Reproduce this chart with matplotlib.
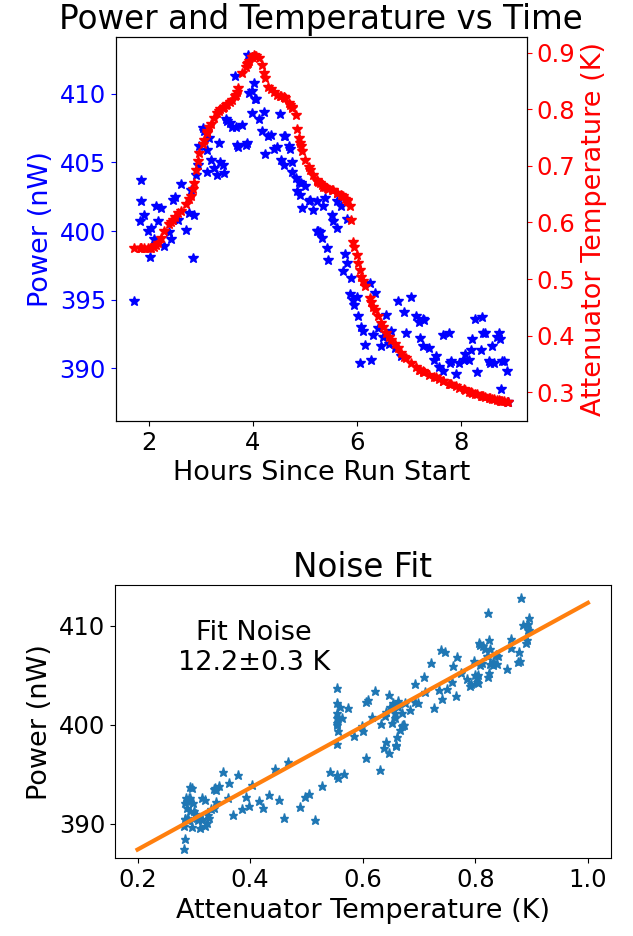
import matplotlib
matplotlib.use('Agg')
import matplotlib.pyplot as plt

# Heures depuis le début du run
hours = [1.73, 1.83, 1.85, 1.86, 1.92, 1.99, 2.02, 2.05, 2.11, 2.15, 2.18, 2.24, 2.30, 2.40, 2.43,
         2.46, 2.50, 2.56, 2.62, 2.72, 2.78, 2.81, 2.85, 2.88, 2.91, 2.94, 2.97, 3.04, 3.07, 3.12,
         3.13, 3.16, 3.19, 3.26, 3.32, 3.35, 3.38, 3.42, 3.44, 3.48, 3.51, 3.56, 3.61, 3.65, 3.67,
         3.70, 3.72, 3.80, 3.86, 3.89, 3.90, 3.92, 3.98, 3.99, 4.02, 4.05, 4.07, 4.11, 4.18, 4.21,
         4.24, 4.30, 4.34, 4.40, 4.46, 4.53, 4.54, 4.59, 4.60, 4.62, 4.69, 4.72, 4.75, 4.76, 4.82,
         4.85, 4.88, 4.91, 4.92, 4.94, 5.00, 5.07, 5.10, 5.16, 5.23, 5.24, 5.26, 5.29, 5.32, 5.35,
         5.38, 5.42, 5.45, 5.51, 5.54, 5.61, 5.62, 5.70, 5.73, 5.77, 5.80, 5.81, 5.86, 5.88, 5.92,
         5.95, 5.99, 6.02, 6.05, 6.08, 6.11, 6.15, 6.24, 6.27, 6.31, 6.34, 6.40, 6.46, 6.50, 6.56,
         6.61, 6.66, 6.72, 6.78, 6.85, 6.91, 6.94, 7.04, 7.13, 7.19, 7.20, 7.26, 7.27, 7.29, 7.38,
         7.48, 7.51, 7.58, 7.64, 7.65, 7.77, 7.78, 7.80, 7.89, 7.96, 8.05, 8.08, 8.15, 8.18, 8.21,
         8.27, 8.30, 8.37, 8.40, 8.41, 8.46, 8.53, 8.56, 8.59, 8.62, 8.69, 8.72, 8.75, 8.76, 8.78,
         8.81, 8.88, 8.90]

# Puissance mesurée (nW)
power = [394.9, 400.7, 402.2, 403.7, 401.2, 400.0, 398.1, 400.2, 399.4, 401.8, 400.7, 401.7, 398.9, 399.9, 399.4,
         402.3, 402.5, 400.8, 403.4, 400.1, 401.3, 403.0, 398.0, 401.2, 404.1, 404.8, 406.2, 407.5, 407.3, 404.3,
         405.9, 406.8, 405.2, 404.6, 404.1, 406.4, 405.0, 404.8, 404.2, 408.2, 408.0, 407.9, 407.6, 411.3, 407.6,
         406.3, 406.1, 407.7, 406.3, 406.4, 412.8, 410.1, 408.6, 410.2, 410.8, 409.6, 409.6, 408.2, 407.3, 408.7,
         405.6, 406.9, 407.0, 406.0, 406.1, 408.5, 405.2, 406.9, 404.8, 406.9, 406.2, 406.0, 405.0, 404.3, 403.9,
         402.9, 403.6, 402.6, 403.5, 401.7, 403.3, 402.2, 402.3, 401.5, 402.2, 400.0, 400.0, 399.9, 399.5, 401.8,
         402.4, 398.8, 397.9, 401.2, 400.7, 402.2, 400.2, 401.8, 397.1, 398.3, 400.9, 397.7, 395.4, 396.6, 395.0,
         394.6, 395.2, 393.8, 390.4, 393.0, 392.7, 391.7, 396.2, 390.6, 392.4, 395.5, 392.9, 391.6, 392.3, 393.9,
         391.8, 392.7, 391.5, 394.9, 390.9, 394.1, 392.6, 395.2, 393.8, 393.4, 392.2, 393.6, 391.6, 393.5, 391.5,
         390.6, 390.9, 390.1, 392.4, 389.8, 392.6, 390.4, 390.5, 389.6, 390.4, 390.6, 391.0, 390.6, 391.3, 392.1,
         393.6, 389.7, 391.3, 393.7, 392.6, 392.6, 390.5, 390.4, 391.6, 390.4, 392.3, 392.6, 392.1, 388.5, 390.5,
         390.5, 389.8, 387.5]

# Température de l'atténuateur (K)
temp = [0.555, 0.555, 0.555, 0.555, 0.555, 0.555, 0.555, 0.555, 0.556, 0.560, 0.563, 0.573, 0.585, 0.598, 0.601,
        0.605, 0.610, 0.616, 0.621, 0.632, 0.641, 0.646, 0.659, 0.669, 0.693, 0.708, 0.722, 0.739, 0.746, 0.758,
        0.761, 0.768, 0.775, 0.785, 0.793, 0.797, 0.800, 0.803, 0.804, 0.807, 0.809, 0.813, 0.817, 0.823, 0.826,
        0.831, 0.838, 0.864, 0.875, 0.880, 0.882, 0.885, 0.892, 0.893, 0.896, 0.895, 0.894, 0.890, 0.878, 0.864,
        0.856, 0.840, 0.836, 0.831, 0.826, 0.824, 0.824, 0.822, 0.822, 0.820, 0.812, 0.808, 0.804, 0.803, 0.790,
        0.765, 0.750, 0.740, 0.736, 0.727, 0.711, 0.698, 0.693, 0.684, 0.675, 0.674, 0.672, 0.669, 0.666, 0.663,
        0.662, 0.661, 0.660, 0.658, 0.657, 0.653, 0.652, 0.648, 0.646, 0.642, 0.640, 0.638, 0.630, 0.605, 0.566,
        0.556, 0.542, 0.528, 0.516, 0.504, 0.497, 0.488, 0.467, 0.460, 0.451, 0.445, 0.434, 0.423, 0.415, 0.404,
        0.398, 0.392, 0.385, 0.378, 0.370, 0.363, 0.360, 0.352, 0.345, 0.340, 0.339, 0.337, 0.336, 0.335, 0.331,
        0.327, 0.326, 0.323, 0.320, 0.320, 0.315, 0.315, 0.314, 0.311, 0.308, 0.305, 0.304, 0.301, 0.300, 0.299,
        0.297, 0.296, 0.294, 0.293, 0.293, 0.292, 0.290, 0.289, 0.288, 0.288, 0.287, 0.286, 0.285, 0.285, 0.285,
        0.284, 0.282, 0.282]

# Droite de l'ajustement
fit_temp = [0.2, 1.0]
fit_power = [387.4, 412.3]
fit_text = 'Fit Noise\n12.2±0.3 K'

fig = plt.figure(figsize=(6.33, 9.36), dpi=100)

# 1er graphique : puissance et température en fonction du temps
ax1 = fig.add_axes([0.1828, 0.5502, 0.6497, 0.4103])
ax1.plot(hours, power, '*', color='blue', markersize=7)
ax1.set_xlabel('Hours Since Run Start', fontsize=19.5)
ax1.set_ylabel('Power (nW)', color='blue', fontsize=19.5)
ax1.tick_params(axis='y', colors='blue', labelsize=17.5)
ax1.tick_params(axis='x', labelsize=17.5)
ax1.set_xlim(1.37, 9.26)
ax1.set_ylim(386.15, 414.15)
ax1.set_xticks([2, 4, 6, 8])
ax1.set_yticks([390, 395, 400, 405, 410])
ax1.set_title('Power and Temperature vs Time', fontsize=23.5)

ax2 = ax1.twinx()
ax2.plot(hours, temp, '*', color='red', markersize=7.5)
ax2.set_ylabel('Attenuator Temperature (K)', color='red', fontsize=19.5)
ax2.tick_params(axis='y', colors='red', labelsize=17.5)
ax2.set_ylim(0.249, 0.928)
ax2.set_yticks([0.3, 0.4, 0.5, 0.6, 0.7, 0.8, 0.9])

# 2e graphique : puissance en fonction de la température
ax3 = fig.add_axes([0.1817, 0.0828, 0.7835, 0.2922])
ax3.plot(temp, power, '*', markersize=6.5)
ax3.plot(fit_temp, fit_power, linewidth=3)
ax3.text(0.407, 407.7, fit_text, ha='center', va='center', fontsize=19.5)
ax3.set_xlabel('Attenuator Temperature (K)', fontsize=19.5)
ax3.set_ylabel('Power (nW)', fontsize=19.5)
ax3.tick_params(labelsize=17.5)
ax3.set_xlim(0.16, 1.041)
ax3.set_ylim(386.5, 414.1)
ax3.set_xticks([0.2, 0.4, 0.6, 0.8, 1.0])
ax3.set_yticks([390, 400, 410])
ax3.set_title('Noise Fit', fontsize=23.5)

fig.savefig('out.png', dpi=100)
